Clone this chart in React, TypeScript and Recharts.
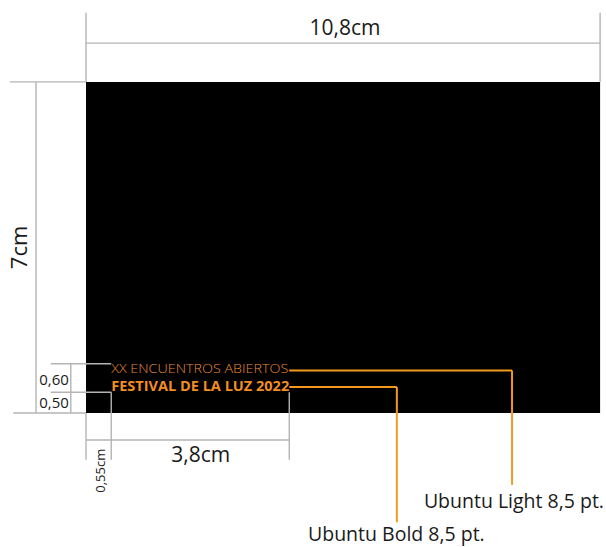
import { ComposedChart, XAxis, YAxis, ReferenceArea, ReferenceLine, Scatter } from 'recharts';

// drawing units are cm, origin at the lower left corner of the black card
const cardSize = { width: 10.8, height: 7 };

// dimension lines (gray), each one a segment
const dimensionLines: [number, number, number, number][] = [
  [0, 8.46, 0, 7],
  [10.8, 8.46, 10.8, 7],
  [0, 7.82, 10.8, 7.82],
  [-1.6, 7, 0, 7],
  [-1.05, 0, -1.05, 7],
  [-1.53, 0, 0, 0],
  [-0.74, 1.04, 0.53, 1.04],
  [-0.74, 0.44, 0.53, 0.44],
  [-0.32, 0, -0.32, 1.04],
  [0, 0, 0, -0.99],
  [0.53, 0.44, 0.53, -0.99],
  [0, -0.57, 4.27, -0.57],
  [4.27, 0.44, 4.27, -0.99],
];

// orange leader lines to the font notes
const leaderLines: [number, number, number, number][] = [
  [4.27, 0.9, 8.95, 0.9],
  [8.95, 0.9, 8.95, -1.52],
  [4.27, 0.55, 6.53, 0.55],
  [6.53, 0.55, 6.53, -2.31],
];

const dimensionLabels = [
  { x: 5.44, y: 8.16, text: '10,8cm', size: 21, rotate: 0 },
  { x: -1.43, y: 3.5, text: '7cm', size: 22, rotate: -90 },
  { x: -0.67, y: 0.72, text: '0,60', size: 15, rotate: 0 },
  { x: -0.67, y: 0.24, text: '0,50', size: 15, rotate: 0 },
  { x: 0.29, y: -1.22, text: '0,55cm', size: 13, rotate: -90 },
  { x: 2.41, y: -0.87, text: '3,8cm', size: 21, rotate: 0 },
  { x: 8.99, y: -1.84, text: 'Ubuntu Light 8,5 pt.', size: 19.5, rotate: 0 },
  { x: 6.52, y: -2.55, text: 'Ubuntu Bold 8,5 pt.', size: 19.5, rotate: 0 },
];

const cardTexts = [
  { x: 0.53, y: 0.95, text: 'XX ENCUENTROS ABIERTOS', weight: 300, color: '#e8893a', length: 177 },
  { x: 0.53, y: 0.57, text: 'FESTIVAL DE LA LUZ 2022', weight: 700, color: '#f28e22', length: 178 },
];

const FONT = '"Open Sans", "Noto Sans", sans-serif';

const DimLabel = (props: any) => {
  const { cx, cy, payload } = props;
  return (
    <text
      x={cx}
      y={cy}
      textAnchor="middle"
      dominantBaseline="central"
      fontSize={payload.size}
      fontFamily={FONT}
      fill="#1a1a1a"
      transform={payload.rotate ? `rotate(${payload.rotate} ${cx} ${cy})` : undefined}
    >
      {payload.text}
    </text>
  );
};

const CardText = (props: any) => {
  const { cx, cy, payload } = props;
  return (
    <text
      x={cx}
      y={cy}
      dominantBaseline="central"
      fontSize={13.5}
      fontWeight={payload.weight}
      fontFamily={FONT}
      fill={payload.color}
      textLength={payload.length}
      lengthAdjust="spacingAndGlyphs"
    >
      {payload.text}
    </text>
  );
};

export default function App() {
  return (
    <div style={{ position: 'absolute', left: 0, top: 0, background: '#fff' }}>
      <ComposedChart width={606} height={547} margin={{ top: 0, right: 0, bottom: 0, left: 0 }}>
        <XAxis type="number" dataKey="x" domain={[-1.807, 10.924]} hide allowDataOverflow />
        <YAxis type="number" dataKey="y" domain={[-2.833, 8.731]} hide allowDataOverflow />
        <ReferenceArea
          x1={0}
          x2={cardSize.width}
          y1={0}
          y2={cardSize.height}
          fill="#000"
          fillOpacity={1}
          stroke="none"
        />
        {dimensionLines.map(([x1, y1, x2, y2], i) => (
          <ReferenceLine
            key={`d${i}`}
            segment={[
              { x: x1, y: y1 },
              { x: x2, y: y2 },
            ]}
            stroke="#b4b4b4"
            strokeWidth={1.4}
          />
        ))}
        {leaderLines.map(([x1, y1, x2, y2], i) => (
          <ReferenceLine
            key={`l${i}`}
            segment={[
              { x: x1, y: y1 },
              { x: x2, y: y2 },
            ]}
            stroke="#f39a1e"
            strokeWidth={2}
          />
        ))}
        <Scatter data={dimensionLabels} shape={DimLabel} isAnimationActive={false} />
        <Scatter data={cardTexts} shape={CardText} isAnimationActive={false} />
      </ComposedChart>
    </div>
  );
}
